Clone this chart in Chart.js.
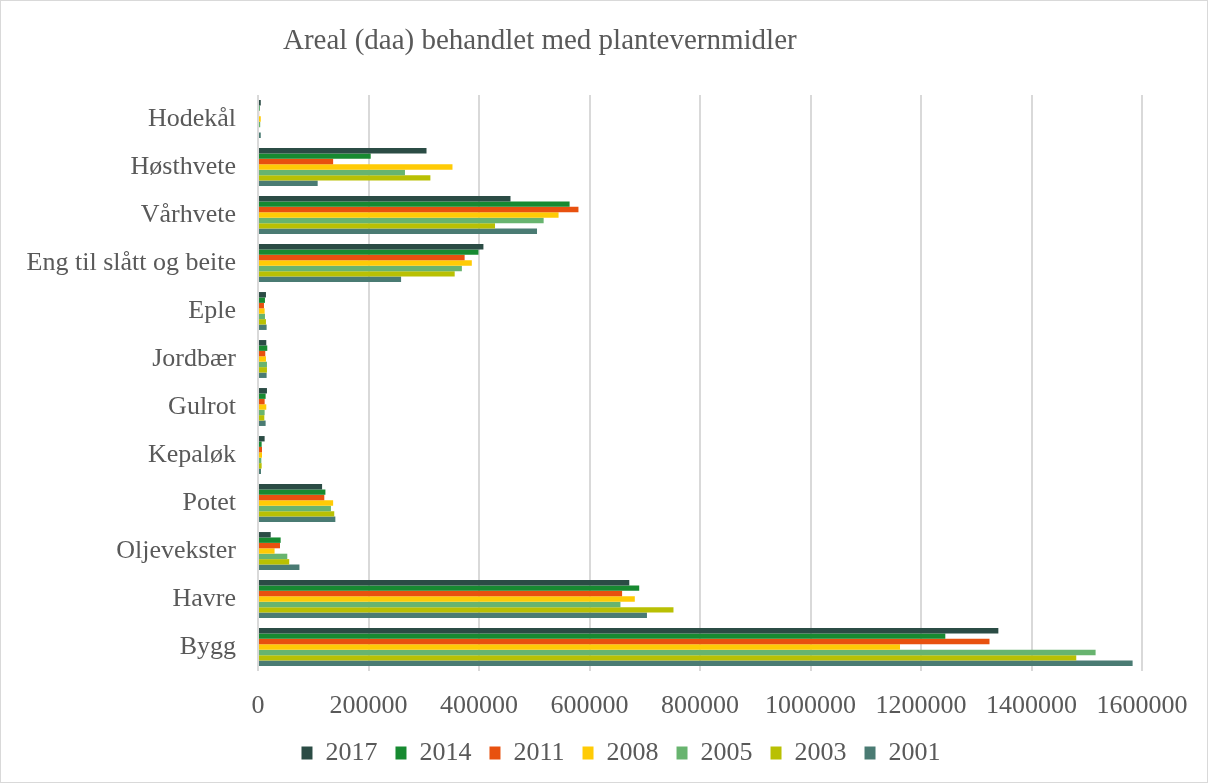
<!DOCTYPE html>
<html lang="no">
<head>
  <meta charset="utf-8">
  <title>Areal behandlet med plantevernmidler</title>
  <script src="https://cdn.jsdelivr.net/npm/chart.js@4/dist/chart.umd.min.js"></script>
  <style>
    html, body { margin: 0; padding: 0; background: #fff; }
    #wrap { width: 1208px; height: 783px; }
  </style>
</head>
<body>
  <div id="wrap"><canvas id="areal"></canvas></div>

  <script>
    // kategorier, ovenfra og ned
    const kultur = ['Hodekål', 'Høsthvete', 'Vårhvete', 'Eng til slått og beite', 'Eple',
                    'Jordbær', 'Gulrot', 'Kepaløk', 'Potet', 'Oljevekster', 'Havre', 'Bygg'];

    // daa per år, samme rekkefølge som kultur
    const aar2017 = [5000, 305000, 457000, 408000, 14400, 15000, 16200, 12000, 116000, 23000, 672000, 1340000];
    const aar2014 = [3000, 204000, 564000, 399000, 12600, 16800, 13800, 6600, 122000, 41000, 690000, 1244000];
    const aar2011 = [2000, 136000, 580000, 374000, 10800, 13200, 12000, 7200, 120000, 39800, 659000, 1324000];
    const aar2008 = [5000, 352000, 544000, 387000, 12000, 14400, 15000, 7200, 136000, 30000, 682000, 1162000];
    const aar2005 = [4000, 266000, 517000, 369000, 12600, 16200, 12000, 6000, 132000, 53000, 656000, 1516000];
    const aar2003 = [0, 312000, 429000, 356000, 14400, 16200, 11400, 6600, 138000, 56500, 752000, 1481000];
    const aar2001 = [5000, 108000, 505000, 259000, 15600, 15600, 13800, 5400, 140000, 75000, 704000, 1583000];

    const aarstall = ['2017', '2014', '2011', '2008', '2005', '2003', '2001'];
    const serier = [aar2017, aar2014, aar2011, aar2008, aar2005, aar2003, aar2001];
    const farger = ['#2b4c45', '#178a31', '#e8510f', '#ffcb05', '#68b46f', '#b9c003', '#4a7b73'];

    const xTicks = [0, 200000, 400000, 600000, 800000, 1000000, 1200000, 1400000, 1600000];

    const serif = "'Liberation Serif', 'DejaVu Serif', serif";
    const tekstFarge = '#595959';

    // hvit bakgrunn, grå ramme og tittel; forklaringen flyttes litt mot høyre
    const ramme = {
      id: 'ramme',
      afterLayout(chart) {
        chart.legend.left += 50;
        chart.legend.right += 50;
      },
      beforeDraw(chart) {
        const c = chart.ctx;
        c.save();
        c.fillStyle = '#fff';
        c.fillRect(0, 0, chart.width, chart.height);
        c.strokeStyle = '#d9d9d9';
        c.lineWidth = 1;
        c.strokeRect(0.5, 0.5, chart.width - 1, chart.height - 1);
        c.restore();
      },
      afterDraw(chart) {
        const c = chart.ctx;
        c.save();
        c.font = "29px " + serif;
        c.fillStyle = tekstFarge;
        c.textBaseline = 'middle';
        c.fillText('Areal (daa) behandlet med plantevernmidler', 283, 41);
        c.restore();
      }
    };

    const datasets = serier.map((s, i) => ({
      label: aarstall[i],
      data: s,
      backgroundColor: farger[i],
      borderWidth: 0,
      categoryPercentage: 0.79,
      barPercentage: 1.0
    }));

    new Chart(document.getElementById('areal'), {
      type: 'bar',
      data: { labels: kultur, datasets: datasets },
      options: {
        indexAxis: 'y',
        responsive: true,
        maintainAspectRatio: false,
        animation: false,
        layout: { padding: { top: 95, right: 66, bottom: 7, left: 0 } },
        plugins: {
          title: { display: false },
          tooltip: { enabled: false },
          legend: {
            position: 'bottom',
            labels: {
              boxWidth: 11,
              boxHeight: 13,
              padding: 18,
              color: tekstFarge,
              font: { family: serif, size: 26 }
            }
          }
        },
        scales: {
          x: {
            min: 0,
            max: 1600000,
            afterBuildTicks: (axis) => { axis.ticks = xTicks.map(v => ({ value: v })); },
            afterFit: (axis) => { axis.height = 51; },
            grid: { color: '#d9d9d9', lineWidth: 2, drawTicks: false },
            border: { display: false },
            ticks: {
              padding: 20,
              color: tekstFarge,
              maxRotation: 0,
              autoSkip: false,
              font: { family: serif, size: 26 },
              callback: (v) => String(v)
            }
          },
          y: {
            afterFit: (axis) => { axis.width = 258; },
            grid: { display: false },
            border: { display: false },
            ticks: {
              padding: 14,
              color: tekstFarge,
              autoSkip: false,
              font: { family: serif, size: 26 }
            }
          }
        }
      },
      plugins: [ramme]
    });
  </script>
</body>
</html>
